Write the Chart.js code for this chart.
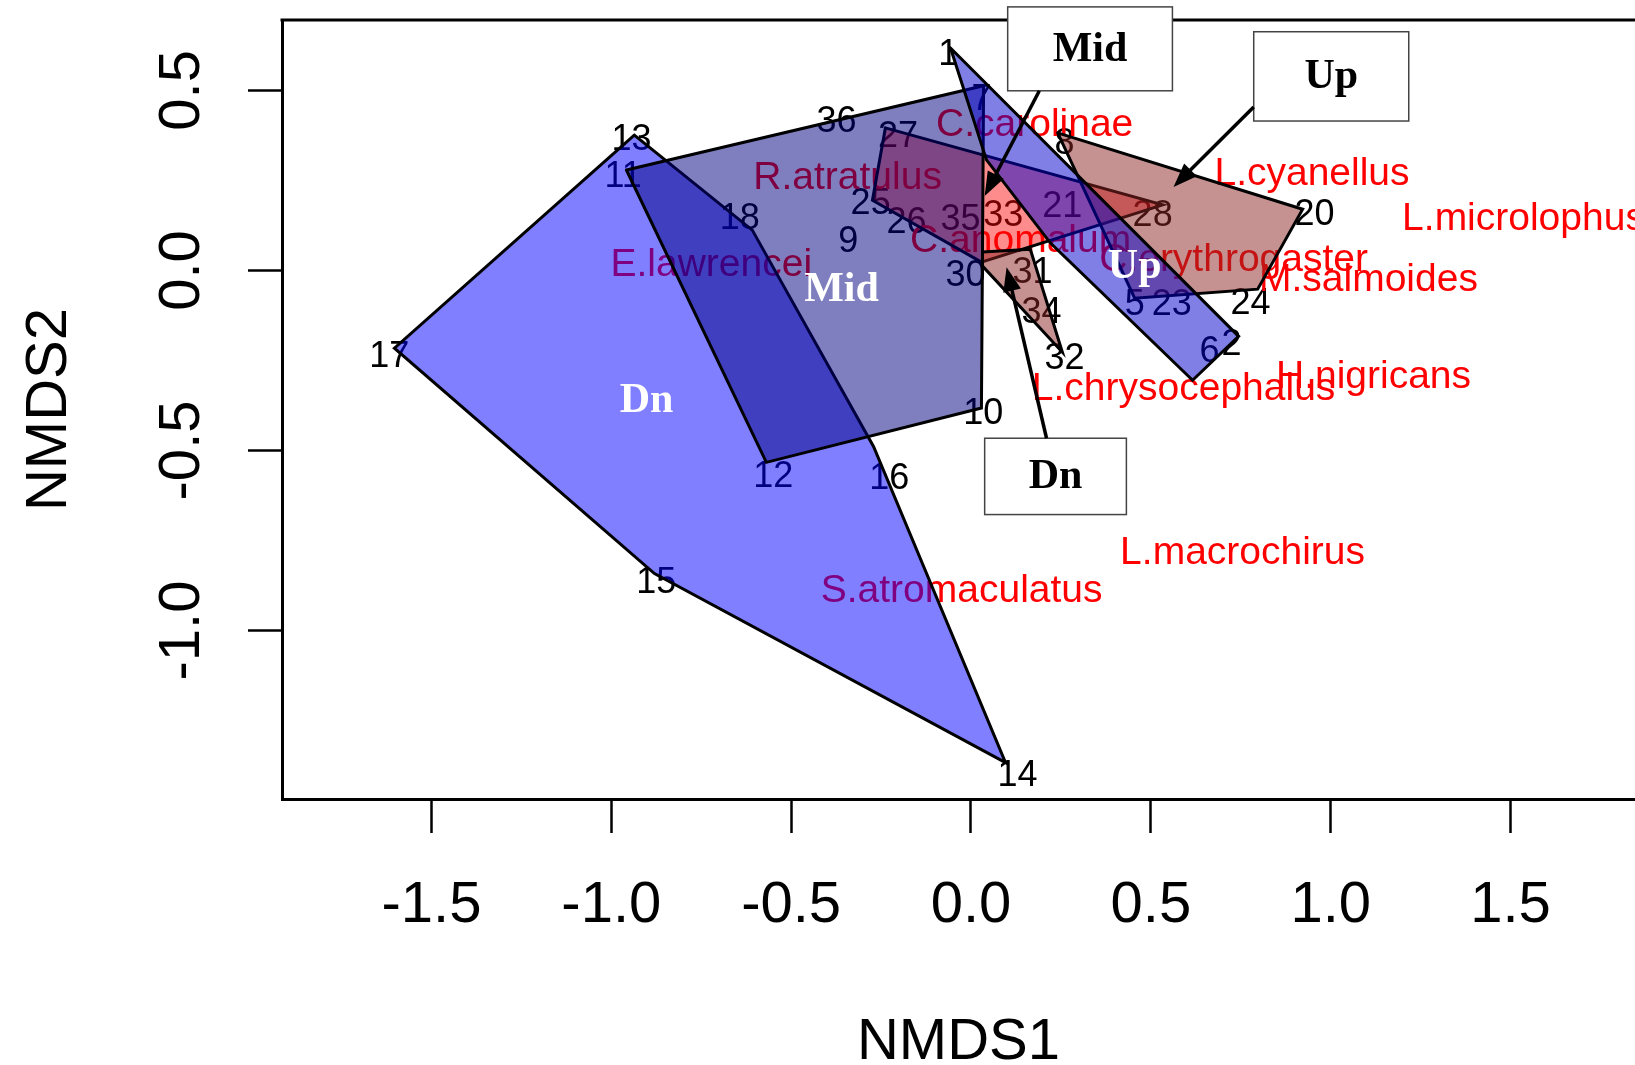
<!DOCTYPE html>
<html>
<head>
<meta charset="utf-8">
<script src="https://cdn.jsdelivr.net/npm/chart.js@4/dist/chart.umd.min.js"></script>
<style>
  html, body { margin: 0; padding: 0; background: #ffffff; }
  canvas { display: block; }
</style>
</head>
<body>
<canvas id="nmds" width="1635" height="1065"></canvas>
<script>
// ---- NMDS ordination: axis ticks ----
const xTicks = [-1.5, -1.0, -0.5, 0.0, 0.5, 1.0, 1.5];
const yTicks = [-1.0, -0.5, 0.0, 0.5];

// ---- site scores (labelled by site number) ----
const siteLabels = ['1','2','5','6','7','8','9','10','11','12','13','14','15','16','17','18',
                    '20','21','23','24','25','26','27','28','30','31','32','33','34','35','36'];
const siteX = [-0.063, 0.724, 0.455, 0.663, 0.029, 0.260, -0.341, 0.034, -0.967, -0.550, -0.944,
               0.129, -0.875, -0.227, -1.617, -0.643, 0.955, 0.254, 0.558, 0.777, -0.279, -0.179,
               -0.203, 0.505, -0.015, 0.171, 0.260, 0.090, 0.196, -0.029, -0.374];
const siteY = [0.606, -0.199, -0.088, -0.219, 0.482, 0.360, 0.087, -0.390, 0.268, -0.566, 0.371,
               -1.397, -0.861, -0.572, -0.233, 0.152, 0.162, 0.184, -0.088, -0.085, 0.193, 0.140,
               0.380, 0.159, -0.008, 0.001, -0.238, 0.159, -0.110, 0.148, 0.421];

// ---- species scores ----
const speciesNames = ['C.carolinae', 'R.atratulus', 'E.lawrencei', 'L.cyanellus', 'L.microlophus',
                      'C.erythrogaster', 'M.salmoides', 'C.anomalum', 'L.chrysocephalus',
                      'H.nigricans', 'L.macrochirus', 'S.atromaculatus'];
const speciesX = [0.177, -0.343, -0.722, 0.948, 1.536, 0.730, 1.105, 0.138, 0.591, 1.119, 0.755, -0.026];
const speciesY = [0.412, 0.265, 0.023, 0.276, 0.151, 0.037, -0.019, 0.090, -0.322, -0.288, -0.777, -0.883];

// ---- convex hulls of site groups (blue) ----
const blueDnX  = [-0.936, -0.608, -0.271, 0.096, -0.880, -1.603];
const blueDnY  = [0.376, 0.112, -0.489, -1.367, -0.842, -0.216];
const blueMidX = [-0.958, 0.035, 0.029, -0.569];
const blueMidY = [0.279, 0.513, -0.382, -0.533];
const blueUpX  = [-0.057, 0.744, 0.616, 0.221, 0.043];
const blueUpY  = [0.618, -0.183, -0.305, 0.076, 0.307];

// ---- convex hulls of the second grouping (red / brown) ----
const redMidX = [-0.238, 0.533, 0.029, -0.274];
const redMidY = [0.396, 0.182, 0.023, 0.195];
const redUpX  = [0.241, 0.922, 0.797, 0.455];
const redUpY  = [0.382, 0.170, -0.052, -0.077];
const redDnX  = [0.032, 0.165, 0.254, 0.032];
const redDnY  = [0.051, 0.059, -0.227, 0.012];

// ---- group names written inside the blue hulls ----
const groupNames = ['Dn', 'Mid', 'Up'];
const groupNameX = [-0.902, -0.360, 0.455];
const groupNameY = [-0.364, -0.056, 0.008];

// ---- callout boxes and their arrows ----
const calloutText  = ['Mid', 'Up', 'Dn'];
const calloutLeft  = [0.102, 0.786, 0.038];
const calloutRight = [0.560, 1.217, 0.432];
const calloutTop   = [0.732, 0.663, -0.466];
const calloutBot   = [0.499, 0.415, -0.678];
const arrowFromX = [0.190, 0.786, 0.210];
const arrowFromY = [0.499, 0.454, -0.466];
const arrowToX   = [0.038, 0.563, 0.099];
const arrowToY   = [0.207, 0.232, 0.009];

const SANS  = '"Liberation Sans", Arial, Helvetica, sans-serif';
const SERIF = '"Liberation Serif", "Times New Roman", serif';
const LABEL_DROP = 3;   // text() centres glyphs a little below the em middle

function ring(xs, ys) {
  const pts = xs.map((x, i) => ({ x: x, y: ys[i] }));
  pts.push({ x: xs[0], y: ys[0] });
  return pts;
}

function hullSet(xs, ys, fillColor, order) {
  return {
    data: ring(xs, ys),
    showLine: true,
    fill: 'shape',
    backgroundColor: fillColor,
    borderColor: '#000000',
    borderWidth: 3,
    borderCapStyle: 'round',
    borderJoinStyle: 'miter',
    pointRadius: 0,
    pointHoverRadius: 0,
    tension: 0,
    order: order
  };
}

function drawArrow(ctx, x1, y1, x2, y2) {
  const a = Math.atan2(y2 - y1, x2 - x1);
  const hl = 24, hw = 9;
  ctx.beginPath();
  ctx.moveTo(x1, y1);
  ctx.lineTo(x2 - hl * 0.7 * Math.cos(a), y2 - hl * 0.7 * Math.sin(a));
  ctx.stroke();
  ctx.beginPath();
  ctx.moveTo(x2, y2);
  ctx.lineTo(x2 - hl * Math.cos(a) + hw * Math.sin(a), y2 - hl * Math.sin(a) - hw * Math.cos(a));
  ctx.lineTo(x2 - hl * Math.cos(a) - hw * Math.sin(a), y2 - hl * Math.sin(a) + hw * Math.cos(a));
  ctx.closePath();
  ctx.fill();
}

const ordiLayers = {
  id: 'ordiLayers',
  // point labels sit underneath the translucent hulls
  beforeDatasetsDraw(chart) {
    const { ctx, chartArea, scales: { x, y } } = chart;
    ctx.save();
    ctx.beginPath();
    ctx.rect(chartArea.left, chartArea.top, chartArea.right - chartArea.left, chartArea.bottom - chartArea.top);
    ctx.clip();
    ctx.textAlign = 'center';
    ctx.textBaseline = 'middle';
    ctx.font = '36px ' + SANS;
    ctx.fillStyle = '#000000';
    siteLabels.forEach((t, i) => {
      ctx.fillText(t, x.getPixelForValue(siteX[i]), y.getPixelForValue(siteY[i]) + LABEL_DROP);
    });
    ctx.font = '39px ' + SANS;
    ctx.fillStyle = '#ff0000';
    speciesNames.forEach((t, i) => {
      ctx.fillText(t, x.getPixelForValue(speciesX[i]), y.getPixelForValue(speciesY[i]) + LABEL_DROP);
    });
    ctx.restore();
  },
  afterDatasetsDraw(chart) {
    const { ctx, chartArea, scales: { x, y } } = chart;
    ctx.save();
    // top edge of the plot frame
    ctx.strokeStyle = '#000000';
    ctx.lineWidth = 3;
    ctx.beginPath();
    ctx.moveTo(chartArea.left - 1.5, chartArea.top);
    ctx.lineTo(chart.width, chartArea.top);
    ctx.stroke();
    // group names
    ctx.textAlign = 'center';
    ctx.textBaseline = 'middle';
    ctx.font = 'bold 42px ' + SERIF;
    ctx.fillStyle = '#ffffff';
    groupNames.forEach((t, i) => {
      ctx.fillText(t, x.getPixelForValue(groupNameX[i]), y.getPixelForValue(groupNameY[i]));
    });
    ctx.restore();
  },
  afterDraw(chart) {
    const { ctx, scales: { x, y } } = chart;
    ctx.save();
    calloutText.forEach((t, i) => {
      const l = x.getPixelForValue(calloutLeft[i]);
      const r = x.getPixelForValue(calloutRight[i]);
      const tp = y.getPixelForValue(calloutTop[i]);
      const b = y.getPixelForValue(calloutBot[i]);
      ctx.fillStyle = '#ffffff';
      ctx.fillRect(l, tp, r - l, b - tp);
      ctx.strokeStyle = '#444444';
      ctx.lineWidth = 1.5;
      ctx.strokeRect(l, tp, r - l, b - tp);
      ctx.fillStyle = '#000000';
      ctx.font = 'bold 42px ' + SERIF;
      ctx.textAlign = 'center';
      ctx.textBaseline = 'middle';
      ctx.fillText(t, (l + r) / 2, (tp + b) / 2 + 1);
    });
    ctx.strokeStyle = '#000000';
    ctx.fillStyle = '#000000';
    ctx.lineWidth = 3.5;
    arrowFromX.forEach((v, i) => {
      drawArrow(ctx,
        x.getPixelForValue(v), y.getPixelForValue(arrowFromY[i]),
        x.getPixelForValue(arrowToX[i]), y.getPixelForValue(arrowToY[i]));
    });
    ctx.restore();
  }
};

const axisFont = { family: SANS, size: 58 };

new Chart(document.getElementById('nmds'), {
  type: 'scatter',
  data: {
    datasets: [
      hullSet(redMidX, redMidY, 'rgba(255,0,0,0.45)', 6),
      hullSet(redUpX, redUpY, 'rgba(139,35,35,0.5)', 5),
      hullSet(redDnX, redDnY, 'rgba(139,35,35,0.5)', 4),
      hullSet(blueDnX, blueDnY, 'rgba(0,0,255,0.5)', 3),
      hullSet(blueMidX, blueMidY, 'rgba(0,0,128,0.5)', 2),
      hullSet(blueUpX, blueUpY, 'rgba(0,0,205,0.5)', 1)
    ]
  },
  options: {
    responsive: false,
    animation: false,
    devicePixelRatio: 1,
    events: [],
    layout: { padding: { top: 20, left: 0, right: 0, bottom: 0 } },
    plugins: {
      legend: { display: false },
      tooltip: { enabled: false },
      filler: { propagate: false }
    },
    scales: {
      x: {
        type: 'linear',
        position: 'bottom',
        min: -1.9155,
        max: 1.846,
        afterBuildTicks: (s) => { s.ticks = xTicks.map(v => ({ value: v })); },
        afterFit: (s) => { s.height = 266; s.paddingLeft = 0; s.paddingRight = 0; },
        grid: { drawOnChartArea: false, drawTicks: true, tickLength: 34, tickWidth: 2.5, tickColor: '#000000' },
        border: { display: true, color: '#000000', width: 3 },
        ticks: {
          padding: 38, color: '#000000', font: axisFont, autoSkip: false, maxRotation: 0, minRotation: 0,
          callback: (v) => Number(v).toFixed(1)
        },
        title: {
          display: true, text: 'NMDS1', color: '#000000',
          font: { family: SANS, size: 58, lineHeight: 0.76 }, padding: { top: 0, bottom: 0 }
        }
      },
      y: {
        type: 'linear',
        position: 'left',
        min: -1.468,
        max: 0.6956,
        afterBuildTicks: (s) => { s.ticks = yTicks.map(v => ({ value: v })); },
        afterFit: (s) => { s.width = 282; s.paddingTop = 0; s.paddingBottom = 0; },
        grid: { drawOnChartArea: false, drawTicks: true, tickLength: 34, tickWidth: 2.5, tickColor: '#000000' },
        border: { display: true, color: '#000000', width: 3 },
        ticks: {
          padding: 15, color: '#000000', font: axisFont, autoSkip: false,
          minRotation: 90, maxRotation: 90, crossAlign: 'center',
          callback: (v) => Number(v).toFixed(1)
        },
        title: {
          display: true, text: 'NMDS2', color: '#000000',
          font: { family: SANS, size: 58, lineHeight: 0.76 }, padding: { top: 28, bottom: 0 }
        }
      }
    }
  },
  plugins: [ordiLayers]
});
</script>
</body>
</html>
